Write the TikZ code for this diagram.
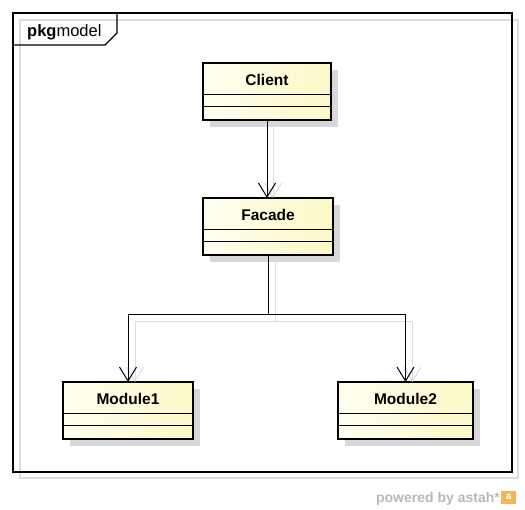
\documentclass[tikz,border=0pt]{standalone}
\usepackage{fontspec}
\setmainfont{Liberation Sans}
\usepackage{tikz}
\usetikzlibrary{arrows.meta,calc,shadows}
\definecolor{astahInk}{HTML}{000000}
\definecolor{astahFill}{HTML}{FFFFF0}
\definecolor{astahFillDeep}{HTML}{FCF8C6}
\definecolor{astahShadow}{HTML}{D8D8D8}
\definecolor{astahHairline}{HTML}{DCDCDC}
\definecolor{astahGray}{HTML}{B8B8B8}
\definecolor{astahOrange}{HTML}{F4B45A}

\begin{document}
\begin{tikzpicture}[
  x=1pt,y=-1pt,
  font=\fontsize{14}{16}\selectfont,
  classbox/.style ={rectangle,draw=astahInk,line width=2.4pt,left color=astahFill,right color=astahFillDeep,
                    minimum width=#1,minimum height=57pt,inner sep=0pt,outer sep=0pt,anchor=north west,
                    drop shadow={shadow xshift=7pt,shadow yshift=-7pt,fill=astahShadow,opacity=1}},
  classname/.style={font=\fontsize{15.5}{17}\selectfont\bfseries,inner sep=0pt},
  compline/.style ={draw=astahInk,line width=0.8pt},
  frameline/.style={draw=astahInk,line width=1.2pt},
  frameshade/.style={draw=astahHairline,line width=1.2pt},
  assoc/.style    ={-{Straight Barb[length=14pt,width=17pt]},draw=astahInk,line width=1pt},
  assocshade/.style={-{Straight Barb[length=14pt,width=17pt]},draw=astahHairline,line width=1pt}
]
\useasboundingbox (0,0) rectangle (525,510);

% package frame
\draw[frameshade] (20,20) rectangle (518,478);
\draw[frameline] (13,13) rectangle (512,472);
\draw[frameline] (13,45) -- (105,45) -- (117,33) -- (117,13);
\node[anchor=base west,inner sep=0pt,font=\fontsize{16.5}{18}\selectfont] (pkg) at (27,37) {\textbf{pkg}model};

% classes
\node[classbox=128pt] (client)  at (203,63)  {};
\node[classbox=130pt] (facade)  at (203,198) {};
\node[classbox=130pt] (module1) at (63,382)  {};
\node[classbox=135pt] (module2) at (338,382) {};

\foreach \c/\t in {client/Client,facade/Facade,module1/Module1,module2/Module2}{
  \draw[compline] ($(\c.north west)+(0,31)$) -- ($(\c.north east)+(0,31)$);
  \draw[compline] ($(\c.north west)+(0,43)$) -- ($(\c.north east)+(0,43)$);
  \node[classname] (\c-name) at ($(\c.north)+(0,17)$) {\t};
}

% connector fork point
\coordinate (fork) at ($(facade.south)+(0,60)$);

% association shadows
\draw[assocshade] ([shift={(6,7)}]client.south) -- ([xshift=6pt]client.south |- facade.north);
\draw[assocshade] ([shift={(7,7)}]facade.south) -- ([shift={(7,7)}]fork) -| ([xshift=7pt]module1.north);
\draw[assocshade] ([shift={(7,7)}]fork) -| ([xshift=7pt]module2.north);

% associations
\draw[assoc] (client.south) -- (client.south |- facade.north);
\draw[assoc] (facade.south) -- (fork) -| (module1.north);
\draw[assoc] (fork) -| (module2.north);

% footer
\node[anchor=base east,inner sep=0pt,text=astahGray,font=\fontsize{14}{16}\selectfont\bfseries] (powered) at (500,502) {powered by astah*};
\node[anchor=west,fill=astahOrange,text=white,inner sep=0pt,minimum width=15pt,minimum height=13pt,
      font=\fontsize{10}{10}\selectfont\bfseries] (logo) at (501,497) {a};
\end{tikzpicture}
\end{document}
